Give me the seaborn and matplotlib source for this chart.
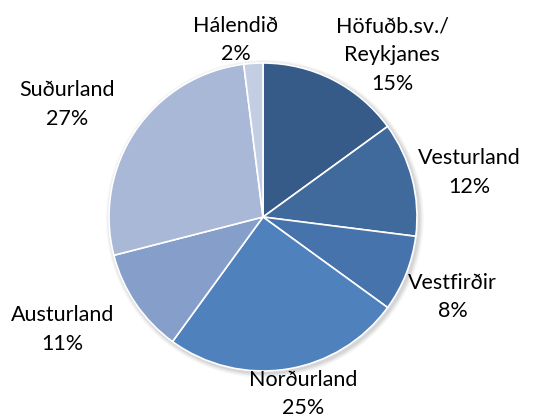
import numpy as np
import matplotlib
matplotlib.use("Agg")
import matplotlib.pyplot as plt
import seaborn as sns
from matplotlib.patches import Circle

# data
regions = ["Höfuðb.sv./\nReykjanes", "Vesturland", "Vestfirðir", "Norðurland",
           "Austurland", "Suðurland", "Hálendið"]
shares = [15, 12, 8, 25, 11, 27, 2]

# styling / layout
colors = ["#375B88", "#416A9C", "#4673AB", "#4F81BD", "#859FCA", "#A9B8D7", "#C3CDE3"]
label_pos = [(0.84, 1.05), (1.34, 0.29), (1.23, -0.52), (0.26, -1.15),
             (-1.30, -0.73), (-1.27, 0.73), (-0.175, 1.15)]

sns.set_style("white")
plt.rcParams["font.family"] = ["Lato", "DejaVu Sans"]

fig = plt.figure(figsize=(5.39, 4.17), dpi=100)
ax = fig.add_axes([0, 0, 1, 1])

# soft shadow behind the pie
for i, a in enumerate([0.05, 0.05, 0.04, 0.03]):
    ax.add_patch(Circle((0.012, -0.012), 1.0 + 0.008 * (i + 1), color="black",
                        alpha=a, lw=0, zorder=0))

wedges, _ = ax.pie(shares, colors=colors, startangle=90, counterclock=False,
                   radius=1.0, wedgeprops=dict(edgecolor="white", linewidth=1.2))
for w in wedges:
    w.set_zorder(2)

for name, val, (x, y) in zip(regions, shares, label_pos):
    ax.text(x, y, f"{name}\n{val}%", ha="center", va="center", fontsize=15.5,
            linespacing=1.55, color="#000000", zorder=3)

ax.set_xlim(-263 / 154, 276 / 154)
ax.set_ylim(-200 / 154, 217 / 154)
ax.set_aspect("auto")
ax.axis("off")

fig.savefig("out.png", dpi=100, facecolor="white")
